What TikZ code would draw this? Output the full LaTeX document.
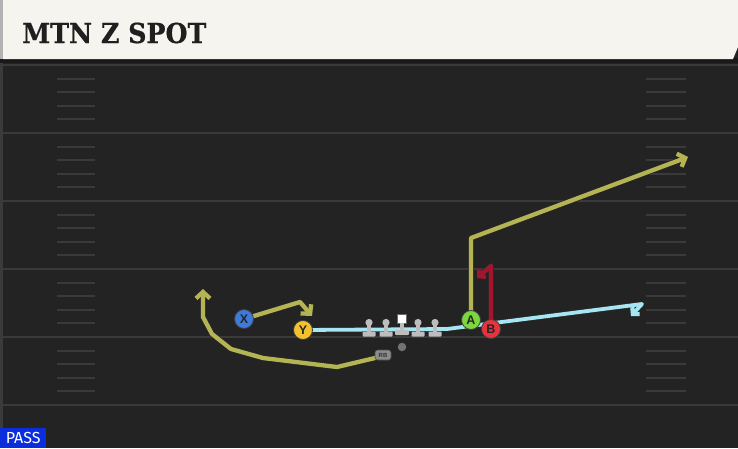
\documentclass[tikz,border=0pt]{standalone}
\usepackage{fontspec}
\setmainfont{Liberation Sans}
\newfontfamily\titlefont{DejaVu Serif}[BoldFeatures={FakeBold=0.6}]
\newfontfamily\passfont{Fira Sans}
\usetikzlibrary{arrows.meta}
\definecolor{fieldbg}{HTML}{232323}
\definecolor{fieldline}{HTML}{3A3A3A}
\definecolor{cream}{HTML}{F6F4EE}
\definecolor{olive}{HTML}{B4B454}
\definecolor{routered}{HTML}{A3152F}
\definecolor{routecyan}{HTML}{A6E6F2}
\definecolor{xblue}{HTML}{3D7AD9}
\definecolor{yyellow}{HTML}{F2C12E}
\definecolor{agreen}{HTML}{7BD63F}
\definecolor{bred}{HTML}{E8323E}
\definecolor{linegray}{HTML}{BDBDBD}
\definecolor{passblue}{HTML}{0A2EDB}
\tikzset{
  yardline/.style={draw=fieldline, line width=2},
  hashmark/.style={draw=fieldline, line width=2},
  route/.style={line width=4.3, line join=round, line cap=round,
    preaction={draw=black!85, line width=5.7}},
  tipbig/.style={-{Straight Barb[length=6.5pt,width=14pt,line width=4.3pt]}},
  tipsmall/.style={-{Straight Barb[length=4.5pt,width=10pt,line width=4.3pt]}},
  player/.style={circle, minimum size=19, inner sep=0, draw=black!75, line width=0.8,
    font=\fontsize{12.5}{12.5}\selectfont\bfseries, text=black!85},
  lineman/.style={fill=linegray},
}
\begin{document}
\begin{tikzpicture}[x=1pt,y=-1pt]
\useasboundingbox (0,0) rectangle (738,448);
% field
\fill[fieldbg] (0,0) rectangle (738,448);
\draw[draw=fieldline, line width=3] (1.5,60) -- (1.5,448);
\foreach \y in {65,133,201,269,337,405} {
  \draw[yardline] (0,\y) -- (738,\y);
}
\foreach \y in {65,133,201,269,337} {
  \foreach \k in {1,2,3,4} {
    \draw[hashmark] (57,\y+13.6*\k) -- (95,\y+13.6*\k);
    \draw[hashmark] (646,\y+13.6*\k) -- (686,\y+13.6*\k);
  }
}
% header
\fill[black!90] (0,58) rectangle (738,63);
\fill[cream] (3,0) -- (738,0) -- (738,47) -- (733,59) -- (3,59) -- cycle;
\fill[black!30] (0,0) rectangle (3,59);
\node[anchor=base west, inner sep=0, text=black!88] (title) at (22,43)
  {\scalebox{0.92}[1]{\titlefont\bfseries\fontsize{27.5}{27.5}\selectfont MTN Z SPOT}};
% PASS label
\node[anchor=south west, fill=passblue, text=white, inner sep=0,
  minimum width=46, minimum height=20] (pass) at (0,448)
  {\passfont\fontsize{16}{16}\selectfont PASS};

% players positions
\coordinate (Xp) at (244,319);
\coordinate (Yp) at (303,330);
\coordinate (Ap) at (471,320);
\coordinate (Bp) at (491,329);
\coordinate (RBp) at (383,355);

% route bends
\coordinate (y1) at (447,329);
\coordinate (y2) at (642,304);
\coordinate (y3) at (631,316);
\coordinate (a1) at (471,238);
\coordinate (a2) at (688,157);
\coordinate (b1) at (491,266);
\coordinate (b2) at (477,278);
\coordinate (x1) at (300,302);
\coordinate (x2) at (312,316);
\coordinate (r0) at (375,358);
\coordinate (r1) at (337,367);
\coordinate (r2) at (263,358);
\coordinate (r3) at (231,349);
\coordinate (r4) at (212,334);
\coordinate (r5) at (203,317);
\coordinate (r6) at (203,289);

% routes
\draw[route, draw=routecyan, tipsmall, line width=3.8] (Yp) -- (y1) -- (y2) -- (y3);
\draw[route, draw=olive, tipbig] (Ap) -- (a1) -- (a2);
\draw[route, draw=routered, tipsmall] (Bp) -- (b1) -- (b2);
\draw[route, draw=olive, tipbig] (Xp) -- (x1) -- (x2);
\draw[route, draw=olive, tipbig] (r0) -- (r1) -- (r2) -- (r3) -- (r4) -- (r5) -- (r6);

% offensive line
\foreach \x/\n in {369/lt,386/lg,418/rg,435/rt} {
  \fill[lineman] (\x,322.5) circle (3.6);
  \fill[lineman] (\x-2,324) rectangle (\x+2,333);
  \fill[lineman, rounded corners=0.8] (\x-6.5,331.5) rectangle (\x+6.5,336.5);
  \coordinate (\n) at (\x,330);
}
\node[fill=white, minimum size=9, inner sep=0, draw=black!60, line width=0.5] (center) at (402,318.5) {};
\fill[lineman] (400,323) rectangle (404,332);
\fill[lineman, rounded corners=0.8] (395,330) rectangle (409,335);
% QB
\node[circle, fill=black!55, minimum size=8.5, inner sep=0] (qb) at (402,347) {};
% RB
\node[fill=black!45, draw=black!70, line width=0.6, rounded corners=2.5, minimum width=16,
  minimum height=10, inner sep=0, font=\fontsize{6}{6}\selectfont\bfseries, text=black!80] (rb) at (RBp) {RB};

% skill players
\node[player, fill=xblue] (X) at (Xp) {X};
\node[player, fill=yyellow] (Y) at (Yp) {Y};
\node[player, fill=agreen] (A) at (Ap) {A};
\node[player, fill=bred] (B) at (Bp) {B};
\end{tikzpicture}
\end{document}
